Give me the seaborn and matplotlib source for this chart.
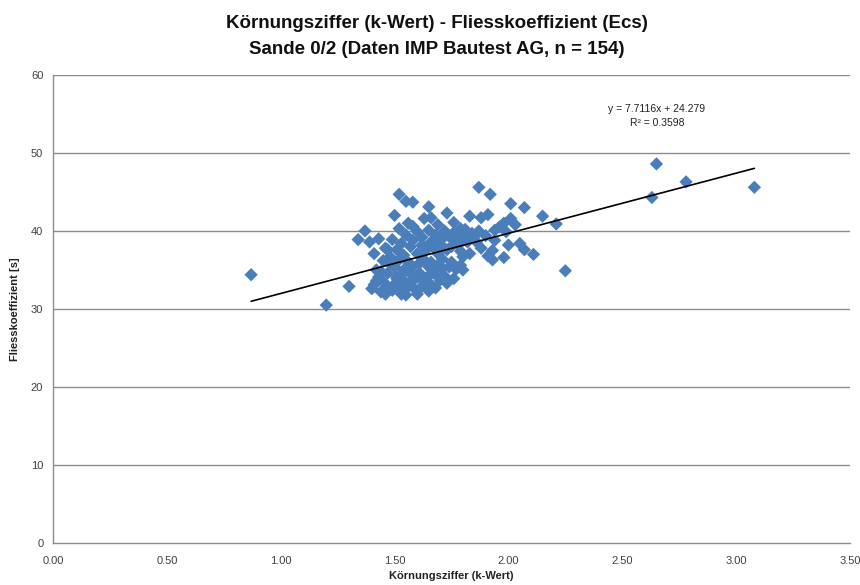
import matplotlib
matplotlib.use("Agg")
import matplotlib.pyplot as plt
import seaborn as sns
import pandas as pd
import numpy as np

# ---- data ----
k_wert = [
    0.87, 1.20, 1.30, 2.63, 2.65, 2.78, 3.08, 2.25, 2.21, 2.15, 2.07, 2.01, 1.92, 1.87,
    1.37, 1.34, 1.39, 1.43, 1.41, 1.46, 1.52, 1.55, 1.58, 1.50, 1.65, 1.73, 1.56, 1.63,
    1.52, 1.60, 1.65, 1.69, 1.76, 1.79, 1.83, 1.88, 1.91, 1.84, 1.85,
    1.98, 2.01, 1.94, 1.99, 2.05, 2.07, 2.11, 1.98, 1.93, 1.91, 1.94, 1.83, 1.80, 1.79,
    1.80, 1.96, 2.03, 1.90, 1.87,
    1.57, 1.60, 1.64, 1.69, 1.73, 1.66, 1.69, 1.71, 1.74, 1.77, 1.80, 1.82, 1.76, 1.72,
    1.68, 1.62, 1.58, 1.55, 1.53, 1.51, 1.47, 1.48, 1.54, 1.62, 1.78, 1.86,
    1.41, 1.44, 1.47, 1.43, 1.42, 1.47, 1.50, 1.51, 1.52, 1.55, 1.57, 1.60, 1.62, 1.66,
    1.67, 1.70, 1.71, 1.74, 1.69, 1.65, 1.63, 1.58, 1.54, 1.45, 1.49, 1.53, 1.56, 1.59,
    1.61, 1.64, 1.68, 1.72, 1.75, 1.77, 1.48, 1.52, 1.56, 1.40, 1.46, 1.50, 1.58, 1.63,
    1.66, 1.73, 1.55, 1.44, 1.60, 1.69, 1.57, 1.54,
    1.62, 1.70, 1.75, 1.81, 1.93, 2.00, 1.58, 1.45, 1.51, 1.65, 1.71, 1.79, 1.88, 1.49,
    1.66, 1.53, 1.42, 1.61, 1.76, 1.67,
]
fliess = [
    34.4, 30.5, 32.9, 44.3, 48.6, 46.3, 45.6, 34.9, 40.9, 41.9, 43.0, 43.5, 44.7, 45.6,
    40.0, 38.9, 38.6, 39.0, 37.1, 37.8, 44.7, 43.8, 43.7, 42.0, 43.1, 42.3, 41.0, 41.6,
    40.3, 39.9, 40.1, 40.8, 41.1, 40.3, 41.9, 41.7, 42.1, 39.7, 39.3,
    41.0, 41.6, 40.1, 39.9, 38.4, 37.6, 37.0, 36.6, 36.3, 36.8, 38.8, 37.1, 36.7, 35.6,
    35.0, 40.5, 40.8, 39.4, 40.0,
    38.0, 37.1, 37.6, 37.1, 37.6, 38.6, 38.8, 39.0, 39.3, 38.8, 39.3, 38.6, 39.8, 40.0,
    39.5, 39.2, 38.8, 39.5, 38.4, 37.6, 37.6, 36.7, 36.9, 36.5, 38.2, 38.6,
    33.1, 32.2, 32.9, 34.1, 35.0, 34.6, 35.4, 33.9, 32.9, 31.8, 33.3, 34.1, 32.9, 33.1,
    34.6, 33.7, 35.2, 35.4, 35.6, 35.4, 36.3, 35.4, 35.0, 33.5, 32.4, 34.4, 34.8, 32.5,
    35.9, 34.0, 32.7, 34.2, 36.0, 35.1, 35.8, 36.3, 36.0, 32.6, 31.9, 33.2, 33.8, 33.5,
    36.0, 33.3, 32.6, 34.8, 31.9, 34.3, 35.7, 33.6,
    38.2, 38.3, 38.0, 40.2, 37.5, 38.2, 40.6, 36.2, 34.1, 32.3, 36.4, 37.4, 37.8, 38.9,
    41.7, 31.9, 33.6, 34.6, 33.9, 37.9,
]
trend_slope = 7.7116
trend_intercept = 24.279
r_squared = 0.3598

title_lines = ["Körnungsziffer (k-Wert) - Fliesskoeffizient (Ecs)",
               "Sande 0/2 (Daten IMP Bautest AG, n = 154)"]
x_label = "Körnungsziffer (k-Wert)"
y_label = "Fliesskoeffizient [s]"
x_ticks = [0.0, 0.5, 1.0, 1.5, 2.0, 2.5, 3.0, 3.5]
y_ticks = [0, 10, 20, 30, 40, 50, 60]

df = pd.DataFrame({"k": k_wert, "ecs": fliess})

sns.set_theme(style="white")
plt.rcParams["font.family"] = ["Liberation Sans", "DejaVu Sans"]

fig = plt.figure(figsize=(8.6, 5.85), dpi=100)
ax = fig.add_axes([53 / 860, 1 - 543 / 585, (850 - 53) / 860, (543 - 75) / 585])

grid_col = "#8c8c8c"
for yv in y_ticks[1:]:
    ax.axhline(yv, color=grid_col, lw=1.0, zorder=0)

sns.scatterplot(data=df, x="k", y="ecs", marker="D", s=46, color="#4a7ebb",
                edgecolor="none", linewidth=0, ax=ax, zorder=3)

xs = np.array([min(k_wert), max(k_wert)])
ax.plot(xs, trend_slope * xs + trend_intercept, color="black", lw=1.2, zorder=4)

ax.set_xlim(0, 3.5)
ax.set_ylim(0, 60)
ax.set_xticks(x_ticks)
ax.set_yticks(y_ticks)
ax.set_xticklabels([f"{v:.2f}" for v in x_ticks])
ax.set_yticklabels([str(v) for v in y_ticks])
ax.tick_params(axis="both", direction="out", length=4, width=1, color=grid_col,
               labelsize=8, labelcolor="#404040", pad=3)
ax.tick_params(axis="x", pad=5)
for side in ["top", "right"]:
    ax.spines[side].set_visible(False)
for side in ["left", "bottom"]:
    ax.spines[side].set_color(grid_col)
    ax.spines[side].set_linewidth(1.0)

ax.set_xlabel(x_label, fontsize=8, fontweight="bold", color="#222222", labelpad=4)
ax.set_ylabel(y_label, fontsize=8, fontweight="bold", color="#222222", labelpad=8)

fig.text(437 / 860, 1 - 23 / 585, title_lines[0], ha="center", va="center",
         fontsize=13.5, fontweight="bold", color="#111111")
fig.text(437 / 860, 1 - 49 / 585, title_lines[1], ha="center", va="center",
         fontsize=13.5, fontweight="bold", color="#111111")

ax.text(657 / 860, 1 - 109 / 585, f"y = {trend_slope}x + {trend_intercept}",
        transform=fig.transFigure, ha="center", va="center", fontsize=7.5, color="#222222")
ax.text(657 / 860, 1 - 123 / 585, f"R² = {r_squared}",
        transform=fig.transFigure, ha="center", va="center", fontsize=7.5, color="#222222")

fig.savefig("out.png", dpi=100, facecolor="white")
